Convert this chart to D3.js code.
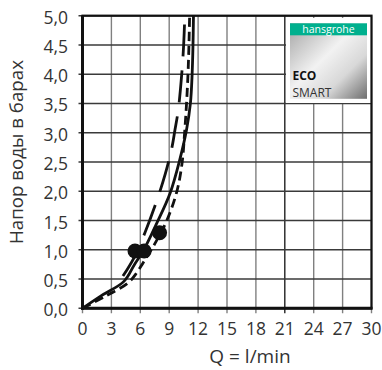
<!DOCTYPE html>
<html><head><meta charset="utf-8">
<script src="https://cdn.jsdelivr.net/npm/d3@7"></script>
<style>body{margin:0;background:#fff;}svg{display:block;}</style>
</head><body>
<script>
// ---- data ----
const xTicks = [0,3,6,9,12,15,18,21,24,27,30];
const yTicks = [0,0.5,1,1.5,2,2.5,3,3.5,4,4.5,5];
const yTickLabels = ["0,0","0,5","1,0","1,5","2,0","2,5","3,0","3,5","4,0","4,5","5,0"];
const solidCurve = [[0,0],[2,0.22],[4.3,0.46],[5.4,0.75],[6.3,0.98],[7.7,1.45],[9.1,1.97],[10.1,2.54],[10.8,3.05],[11.2,3.5],[11.38,4.0],[11.47,4.5],[11.52,5.0]];
const shortDashCurve = [[0,0],[2.3,0.2],[4.7,0.43],[5.6,0.6],[6.3,0.78],[7.6,1.13],[8.75,1.5],[9.8,2.0],[10.35,2.5],[10.6,3.0],[10.8,3.5],[10.95,4.0],[11.05,4.5],[11.12,5.0]];
const longDashCurve = [[4.2,0.55],[5.4,0.88],[6.5,1.3],[7.8,1.88],[8.6,2.3],[9.26,2.73],[9.6,3.05],[9.95,3.4],[10.3,4.0],[10.5,4.5],[10.62,5.0]];
const dots = [[5.45,0.98],[6.4,0.98],[8.0,1.29]];
const xTitle = "Q = l/min";
const yTitle = "Напор воды в барах";

// ---- layout ----
const W = 382, H = 370;
const font = "'Open Sans', sans-serif";
const svg = d3.select("body").append("svg").attr("width", W).attr("height", H);
const x = d3.scaleLinear().domain([0,30]).range([82.5,371.5]);
const y = d3.scaleLinear().domain([0,5]).range([308.3,15.7]);

// grid
svg.append("g").selectAll("line").data(xTicks).join("line")
  .attr("x1", d=>x(d)).attr("x2", d=>x(d)).attr("y1", y(5)).attr("y2", y(0)+5)
  .attr("stroke", d => d===21 ? "#222" : "#808080").attr("stroke-width", 1.4);
svg.append("g").selectAll("line").data(yTicks).join("line")
  .attr("x1", x(0)-4).attr("x2", x(30)).attr("y1", d=>y(d)).attr("y2", d=>y(d))
  .attr("stroke", "#3a3a3a").attr("stroke-width", 1.4);

// logo (white backing over grid)
const lg = svg.append("g");
const defs = svg.append("defs");
const grad = defs.append("linearGradient").attr("id","silver")
  .attr("x1","0%").attr("y1","0%").attr("x2","100%").attr("y2","100%");
grad.append("stop").attr("offset","0%").attr("stop-color","#a4a4a4");
grad.append("stop").attr("offset","45%").attr("stop-color","#f2f2f2");
grad.append("stop").attr("offset","70%").attr("stop-color","#d8d8d8");
grad.append("stop").attr("offset","100%").attr("stop-color","#6e6e6e");
lg.append("rect").attr("x",286).attr("y",18).attr("width",85).attr("height",85).attr("fill","#fff");
lg.append("rect").attr("x",290).attr("y",23.3).attr("width",77).attr("height",75.5).attr("fill","url(#silver)");
lg.append("rect").attr("x",290).attr("y",23.3).attr("width",77).attr("height",12).attr("fill","#00b08e");
lg.append("text").attr("x",328.5).attr("y",33.3).attr("text-anchor","middle")
  .attr("font-family",font).attr("font-size",10.5).attr("fill","#fff").text("hansgrohe");
lg.append("text").attr("x",292.5).attr("y",80).attr("font-family",font).attr("font-weight","bold")
  .attr("font-size",12).attr("fill","#111").text("ECO");
lg.append("text").attr("x",292.5).attr("y",96.5).attr("font-family",font)
  .attr("font-size",12).attr("fill","#333").text("SMART");

// frame
svg.append("rect").attr("x",x(0)).attr("y",y(5)).attr("width",x(30)-x(0)).attr("height",y(0)-y(5))
  .attr("fill","none").attr("stroke","#111").attr("stroke-width",2.2);
svg.append("line").attr("x1",x(0)).attr("x2",x(0)).attr("y1",y(5)).attr("y2",y(0)+1.5).attr("stroke","#111").attr("stroke-width",3);
svg.append("line").attr("x1",x(0)-1.5).attr("x2",x(30)+1).attr("y1",y(0)).attr("y2",y(0)).attr("stroke","#111").attr("stroke-width",3);

// curves
const line = d3.line().x(d=>x(d[0])).y(d=>y(d[1])).curve(d3.curveCatmullRom.alpha(0.5));
svg.append("path").datum(solidCurve).attr("d",line).attr("fill","none")
  .attr("stroke","#111").attr("stroke-width",2.8);
svg.append("path").datum(shortDashCurve).attr("d",line).attr("fill","none")
  .attr("stroke","#111").attr("stroke-width",2.8).attr("stroke-dasharray","9,5");
svg.append("path").datum(longDashCurve).attr("d",line).attr("fill","none")
  .attr("stroke","#111").attr("stroke-width",2.8).attr("stroke-dasharray","32,14");

// dots
svg.append("g").selectAll("circle").data(dots).join("circle")
  .attr("cx",d=>x(d[0])).attr("cy",d=>y(d[1])).attr("r",7.5).attr("fill","#111");

// tick labels
svg.append("g").selectAll("text").data(xTicks).join("text")
  .attr("x",d=>x(d)).attr("y",y(0)+27).attr("text-anchor","middle")
  .attr("font-family",font).attr("font-size",17.5).attr("fill","#333").text(d=>d);
svg.append("g").selectAll("text").data(yTicks).join("text")
  .attr("x",68).attr("y",d=>y(d)+8).attr("text-anchor","end")
  .attr("font-family",font).attr("font-size",17.5).attr("fill","#333").text((d,i)=>yTickLabels[i]);

// titles
svg.append("text").attr("x",250).attr("y",363).attr("text-anchor","middle")
  .attr("font-family",font).attr("font-size",19).attr("fill","#333").text(xTitle);
svg.append("text").attr("transform","translate(23,152) rotate(-90)").attr("text-anchor","middle")
  .attr("font-family",font).attr("font-size",18.7).attr("fill","#333").text(yTitle);
</script>
</body></html>
